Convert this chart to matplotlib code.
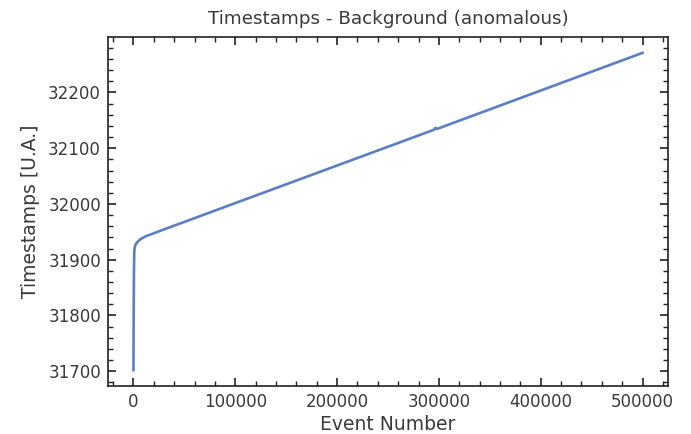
import matplotlib
matplotlib.use("Agg")
import matplotlib.pyplot as plt
from matplotlib.ticker import MultipleLocator

event_number = [0, 200, 500, 800, 1000, 2000, 4000, 7000, 12000,
                18000, 25000, 295000, 296500, 298000, 500000]
timestamps = [31702, 31800, 31880, 31912, 31920, 31927, 31932, 31937, 31942,
              31946, 31951, 32133, 32136.5, 32134.5, 32271]

title = "Timestamps - Background (anomalous)"
xlabel = "Event Number"
ylabel = "Timestamps [U.A.]"

text_color = "#3a3a3a"
plt.rcParams["font.family"] = ["DejaVu Sans"]

fig = plt.figure(figsize=(6.91, 4.34), dpi=100)
ax = fig.add_axes([108/691, 1-386/434, (668-108)/691, (386-37)/434])

ax.plot(event_number, timestamps, color="#5b7fc2", lw=1.9)

ax.xaxis.set_major_locator(MultipleLocator(100000))
ax.xaxis.set_minor_locator(MultipleLocator(20000))
ax.yaxis.set_major_locator(MultipleLocator(100))
ax.yaxis.set_minor_locator(MultipleLocator(20))

ax.tick_params(which="both", direction="in", top=True, right=True,
               colors="#222222", labelcolor=text_color, labelsize=12)
ax.tick_params(which="major", length=6, width=1.2, pad=5)
ax.tick_params(which="minor", length=3.5, width=1.0)
for s in ax.spines.values():
    s.set_color("#222222")
    s.set_linewidth(1.2)

ax.set_title(title, fontsize=13.2, color=text_color, pad=9)
ax.set_xlabel(xlabel, fontsize=13.5, color=text_color, labelpad=3)
ax.set_ylabel(ylabel, fontsize=13.5, color=text_color, labelpad=6)

fig.savefig("out.png", dpi=100)
